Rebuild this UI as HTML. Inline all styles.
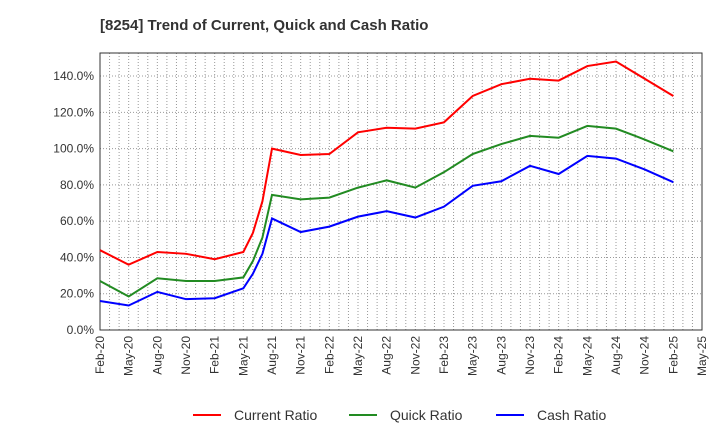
<!DOCTYPE html>
<html><head><meta charset="utf-8"><style>
body{margin:0;background:#fff;font-family:"Liberation Sans",sans-serif}
</style></head><body>
<svg width="720" height="440" xmlns="http://www.w3.org/2000/svg">
<text x="100" y="30" font-size="15" font-weight="bold" fill="#333">[8254]  Trend of Current, Quick and Cash Ratio</text>
<g id="grid"></g><g id="axes"></g><g id="series"></g><g id="legend"></g>
</svg>
<script>
const months=[0,3,6,9,12,15,16,17,18,21,24,27,30,33,36,39,42,45,48,51,54,57,60];
const currentRatio=[44,36,43,42,39,43,53.5,71,100,96.5,97,109,111.5,111,114.5,129,135.5,138.5,137.5,145.5,148,138.5,129];
const quickRatio=[27,18.5,28.5,27,27,29,38,51,74.5,72,73,78.5,82.5,78.5,87,97,102.5,107,106,112.5,111,105,98.5];
const cashRatio=[16,13.5,21,17,17.5,23,31,42,61.5,54,57,62.5,65.5,62,68,79.5,82,90.5,86,96,94.5,88.5,81.5];
const yTicks=[0,20,40,60,80,100,120,140];
const xLabels=["Feb-20","May-20","Aug-20","Nov-20","Feb-21","May-21","Aug-21","Nov-21","Feb-22","May-22","Aug-22","Nov-22","Feb-23","May-23","Aug-23","Nov-23","Feb-24","May-24","Aug-24","Nov-24","Feb-25","May-25"];
const L=100,R=702,T=53,B=330,YMAX=152.7;
const xs=m=>L+m*(R-L)/63, ys=v=>B-v*(B-T)/YMAX;
const NS="http://www.w3.org/2000/svg";
function mk(t,a,p){const e=document.createElementNS(NS,t);for(const k in a)e.setAttribute(k,a[k]);document.getElementById(p).appendChild(e);return e;}
for(let m=1;m<63;m++){const l=mk('line',{x1:xs(m),x2:xs(m),y1:T,y2:B,stroke:'#999','stroke-dasharray':'1,2','stroke-width':1},'grid');

}
yTicks.forEach(v=>{if(v>0){const l=mk('line',{x1:L,x2:R,y1:ys(v),y2:ys(v),stroke:'#999','stroke-dasharray':'1,2'},'grid');

}
const t=mk('text',{x:L-6,y:ys(v)+4,'text-anchor':'end','font-size':12,fill:'#333'},'axes');t.textContent=v.toFixed(1)+'%';

});
const fr=mk('rect',{x:L,y:T,width:R-L,height:B-T,fill:'none',stroke:'#333'},'axes');


xLabels.forEach((s,i)=>{const x=xs(i*3);const t=mk('text',{x:0,y:0,'text-anchor':'end','font-size':12,fill:'#333',transform:`translate(${x+4},${B+6}) rotate(-90)`},'axes');t.textContent=s;

});
[[currentRatio,'#ff0000','current-ratio-line'],[quickRatio,'#228b22','quick-ratio-line'],[cashRatio,'#0000ff','cash-ratio-line']].forEach(([d,c,n])=>{
const p=mk('polyline',{points:d.map((v,i)=>xs(months[i])+','+ys(v)).join(' '),fill:'none',stroke:c,'stroke-width':2},'series');

});
[['Current Ratio','#ff0000',193],['Quick Ratio','#228b22',349],['Cash Ratio','#0000ff',496]].forEach(([s,c,x])=>{
const l=mk('line',{x1:x,x2:x+28,y1:415,y2:415,stroke:c,'stroke-width':2},'legend');


const t=mk('text',{x:x+41,y:420,'font-size':14,fill:'#333'},'legend');t.textContent=s;

});
</script>
</body></html>
